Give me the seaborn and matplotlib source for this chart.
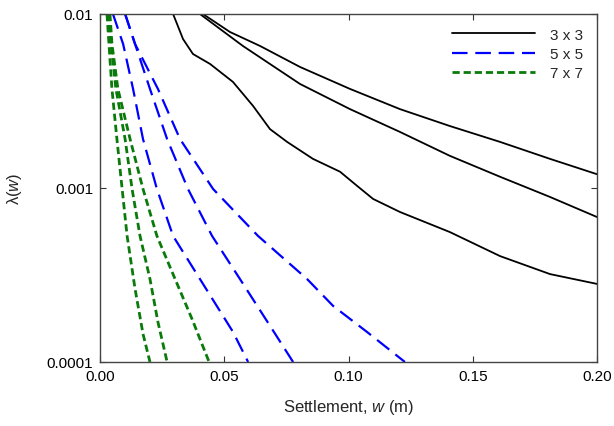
import matplotlib
matplotlib.use("Agg")
import matplotlib.pyplot as plt
import matplotlib.ticker as mticker
import seaborn as sns

# 3 x 3 group (black, solid)
w_3a = [0.0414, 0.0523, 0.0644, 0.0805, 0.1006, 0.1207, 0.1408, 0.1610, 0.1811, 0.2000]
lam_3a = [0.01, 0.00788, 0.00655, 0.00496, 0.00371, 0.00284, 0.00227, 0.00184, 0.00147, 0.00120]
w_3b = [0.0402, 0.0575, 0.0805, 0.1006, 0.1207, 0.1408, 0.1610, 0.1811, 0.2000]
lam_3b = [0.01, 0.00655, 0.00396, 0.00284, 0.00210, 0.00153, 0.00116, 0.000888, 0.000681]
w_3c = [0.0294, 0.0334, 0.0374, 0.0443, 0.0535, 0.0616, 0.0684, 0.0753, 0.0857, 0.0966, 0.1034,
        0.1099, 0.1207, 0.1408, 0.1610, 0.1811, 0.2000]
lam_3c = [0.01, 0.00718, 0.00589, 0.00516, 0.00407, 0.00296, 0.00218, 0.00184, 0.00147, 0.00124, 0.00103,
          0.000865, 0.000728, 0.000558, 0.000406, 0.000320, 0.000281]

# 5 x 5 group (blue, long dash)
w_5a = [0.0052, 0.0093, 0.0133, 0.0173, 0.0229, 0.0294, 0.0402, 0.0535, 0.0596]
lam_5a = [0.01, 0.00672, 0.00371, 0.00191, 0.000987, 0.00053, 0.0003, 0.000149, 0.0001]
w_5b = [0.0101, 0.0141, 0.0201, 0.0270, 0.0354, 0.0451, 0.0563, 0.0692, 0.0777]
lam_5b = [0.01, 0.00672, 0.00371, 0.00191, 0.000987, 0.00053, 0.0003, 0.000155, 0.0001]
w_5c = [0.0101, 0.0141, 0.0233, 0.0322, 0.0455, 0.0636, 0.0833, 0.0938, 0.1074, 0.1227]
lam_5c = [0.01, 0.00672, 0.00371, 0.00191, 0.000987, 0.00053, 0.0003, 0.00021, 0.000149, 0.0001]

# 7 x 7 group (green, short dash)
w_7a = [0.0028, 0.0036, 0.0048, 0.0068, 0.0089, 0.0109, 0.0141, 0.0173, 0.0201]
lam_7a = [0.01, 0.00672, 0.00371, 0.00191, 0.000987, 0.00053, 0.000263, 0.000145, 0.0001]
w_7b = [0.0032, 0.0044, 0.0064, 0.0101, 0.0129, 0.0161, 0.0201, 0.0233, 0.0270]
lam_7b = [0.01, 0.00672, 0.00371, 0.00191, 0.000987, 0.00053, 0.0003, 0.00017, 0.0001]
w_7c = [0.0040, 0.0048, 0.0072, 0.0121, 0.0173, 0.0229, 0.0302, 0.0370, 0.0439]
lam_7c = [0.01, 0.00672, 0.00371, 0.00191, 0.000987, 0.00053, 0.0003, 0.000177, 0.0001]

x_ticks = [0.00, 0.05, 0.10, 0.15, 0.20]
y_ticks = [0.0001, 0.001, 0.01]
y_ticklabels = ['0.0001', '0.001', '0.01']

sns.set_style("ticks")
plt.rcParams['font.family'] = ['Liberation Sans', 'DejaVu Sans']
plt.rcParams['mathtext.fontset'] = 'custom'
plt.rcParams['mathtext.rm'] = 'Liberation Sans'
plt.rcParams['mathtext.it'] = 'Liberation Sans:italic'

fig = plt.figure(figsize=(6.14, 4.27), dpi=100)
ax = fig.add_axes([0.1629, 0.1499, 0.8094, 0.8150])

groups = [
    ('3 x 3', 'black', '-', 1.3, [(w_3a, lam_3a), (w_3b, lam_3b), (w_3c, lam_3c)]),
    ('5 x 5', '#0000ff', (0, (7, 3.5)), 1.6, [(w_5a, lam_5a), (w_5b, lam_5b), (w_5c, lam_5c)]),
    ('7 x 7', '#0a7a0a', (0, (2.6, 1.4)), 2.0, [(w_7a, lam_7a), (w_7b, lam_7b), (w_7c, lam_7c)]),
]

for name, col, ls, lw, curves in groups:
    for i, (w, lam) in enumerate(curves):
        sns.lineplot(x=w, y=lam, ax=ax, color=col, linestyle=ls, linewidth=lw,
                     sort=False, estimator=None, label=name if i == 0 else None)

ax.set_yscale('log')
ax.set_xlim(0, 0.2)
ax.set_ylim(0.0001, 0.01)
ax.set_xticks(x_ticks)
ax.xaxis.set_major_formatter(mticker.FormatStrFormatter('%.2f'))
ax.set_yticks(y_ticks)
ax.set_yticklabels(y_ticklabels)
ax.yaxis.set_minor_locator(mticker.NullLocator())
ax.tick_params(direction='in', length=4, width=0.8, top=True, right=True,
               labelsize=11, colors='#333333', labelcolor='black', pad=5)
for s in ax.spines.values():
    s.set_color('#444444')
    s.set_linewidth(1.0)

ax.set_xlabel(r'Settlement, $\mathit{w}$ (m)', fontsize=12, labelpad=10)
ax.set_ylabel(r'$\mathregular{\lambda(}\mathit{w}\mathregular{)}$', fontsize=12, labelpad=16)

ax.legend(loc='upper right', frameon=False, fontsize=11, handlelength=5.4,
          handletextpad=1.0, labelspacing=0.35, borderaxespad=0.5)

fig.savefig('out.png', dpi=100)
